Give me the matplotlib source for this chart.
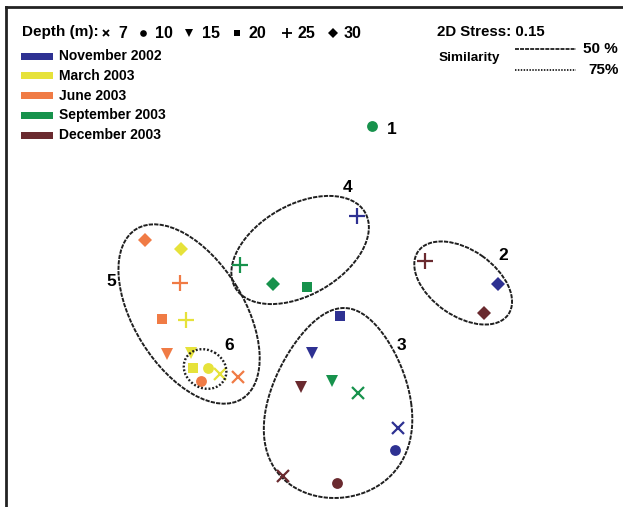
import numpy as np
import matplotlib
matplotlib.use("Agg")
import matplotlib.pyplot as plt
from matplotlib.patches import Ellipse

plt.rcParams['font.family'] = ['Liberation Sans', 'DejaVu Sans']
plt.rcParams['font.weight'] = 'bold'

# ---------------- data (MDS ordination) ----------------
months = ["November 2002", "March 2003", "June 2003", "September 2003", "December 2003"]
month_colors = ["#2E3192", "#E6E23A", "#F07B45", "#17924C", "#6A2A2F"]
depths = [7, 10, 15, 20, 25, 30]
depth_markers = ["x", "o", "v", "s", "+", "D"]

# each sample: month index, depth, MDS x, MDS y
sample_month = [0, 0, 0, 0, 0, 0,
                1, 1, 1, 1, 1, 1,
                2, 2, 2, 2, 2, 2,
                3, 3, 3, 3, 3, 3,
                4, 4, 4, 4, 4]
sample_depth = [25, 30, 20, 15, 7, 10,
                30, 25, 15, 20, 10, 7,
                30, 25, 20, 15, 10, 7,
                10, 25, 30, 20, 15, 7,
                25, 30, 15, 7, 10]
mds_x = [357, 498, 340, 312, 398, 395,
         181, 186, 191, 193, 208, 220,
         145, 180, 162, 167, 201, 238,
         372, 240, 273, 307, 332, 358,
         425, 484, 301, 283, 337]
mds_y = [216, 284, 316, 353, 428, 450,
         249, 320, 353, 368, 368, 374,
         240, 283, 319, 354, 381, 377,
         126, 265, 284, 287, 381, 393,
         261, 313, 387, 476, 483]

# similarity groups (ellipse outlines): center x, center y, semi-axes, angle
group_labels = ["1", "2", "3", "4", "5", "6"]
label_x = [392, 503, 401, 347, 111, 229]
label_y = [130, 255, 345, 188, 281, 345]

ell_cx = [463, 300, 189]
ell_cy = [283, 250, 314]
ell_a = [55, 75, 100]
ell_b = [33, 45, 55]
ell_ang = [35, -30, 58]

# 75% group (dotted)
g6 = dict(cx=205, cy=369, a=22, b=19, ang=30)
# egg-shaped group 3
egg = dict(cx=339, cy=403, a=72, b=95, k=0.25, shear=-0.05)

stress_text = "2D Stress: 0.15"

# ---------------- figure ----------------
W, H = 623, 507
fig = plt.figure(figsize=(W / 100, H / 100), dpi=100)
left_px, top_px = 6, 7
ax = fig.add_axes([left_px / W, 0, 1 - left_px / W + 0.01, (H - top_px) / H])
ax.set_xlim(left_px, W + 6)
ax.set_ylim(H, top_px)
ax.set_xticks([]); ax.set_yticks([])
for s in ["right", "bottom"]:
    ax.spines[s].set_visible(False)
for s in ["left", "top"]:
    ax.spines[s].set_linewidth(2.0)
    ax.spines[s].set_color("#222222")

dash = (0, (2.2, 0.6))
dot = (0, (0.8, 0.8))
lc = "#1f1f1f"

# ellipses
for cx, cy, a, b, ang in zip(ell_cx, ell_cy, ell_a, ell_b, ell_ang):
    ax.add_patch(Ellipse((cx, cy), 2 * a, 2 * b, angle=ang, fill=False,
                         ec=lc, lw=1.4, ls=dash, zorder=2))
ax.add_patch(Ellipse((g6["cx"], g6["cy"]), 2 * g6["a"], 2 * g6["b"], angle=g6["ang"],
                     fill=False, ec=lc, lw=1.7, ls=dot, zorder=4))
t = np.linspace(0, 2 * np.pi, 400)
ey = egg["cy"] + egg["b"] * np.sin(t)
ex = egg["cx"] + egg["a"] * np.cos(t) * (1 + egg["k"] * np.sin(t)) + egg["shear"] * (ey - egg["cy"])
ax.plot(ex, ey, color=lc, lw=1.4, ls=dash, zorder=2)

# points
msize = {"x": 8, "o": 7.8, "v": 8.8, "s": 7.5, "+": 11, "D": 7}
for mi, d, x, y in zip(sample_month, sample_depth, mds_x, mds_y):
    m = depth_markers[depths.index(d)]
    col = month_colors[mi]
    ax.plot(x, y, marker=m, color=col, ms=msize[m], mew=1.6 if m in "x+" else 0,
            ls="none", zorder=3)

for lab, x, y in zip(group_labels, label_x, label_y):
    ax.text(x, y, lab, fontsize=12.5, fontweight="bold", ha="center", va="center", zorder=5)

# ---------------- depth key ----------------
ax.text(22, 32, "Depth (m):", fontsize=11, fontweight="bold", ha="left", va="center")
key_mx = [106, 143, 189, 237, 287, 333]
key_tx = [118, 155, 202, 248, 297, 343]
key_ms = {"x": 5, "o": 4.8, "v": 6, "s": 5, "+": 7, "D": 5}
for m, d, mx, tx in zip(depth_markers, depths, key_mx, key_tx):
    ax.plot(mx, 33, marker=m, color="black", ms=key_ms[m], mew=1.3 if m in "x+" else 0, ls="none")
    ax.text(tx, 33, str(d), fontsize=11.5, fontweight="bold", ha="left", va="center")

# month key
for i, (name, col) in enumerate(zip(months, month_colors)):
    y = 56 + i * 19.8
    ax.add_patch(plt.Rectangle((21, y - 3.5), 32, 7, color=col, lw=0))
    ax.text(59, y, name, fontsize=10, fontweight="bold", ha="left", va="center")

# stress / similarity key
ax.text(437, 32, stress_text, fontsize=10.8, fontweight="bold", ha="left", va="center")
ax.text(438, 58, "Similarity", fontsize=9.7, fontweight="bold", ha="left", va="center")
ax.plot([515, 576], [49, 49], color=lc, lw=1.3, ls=dash)
ax.plot([515, 576], [70, 70], color=lc, lw=1.3, ls=dot)
ax.text(583, 49, "50 %", fontsize=11, fontweight="bold", ha="left", va="center")
ax.text(588, 70, "75%", fontsize=11, fontweight="bold", ha="left", va="center")

fig.savefig("out.png", dpi=100)
